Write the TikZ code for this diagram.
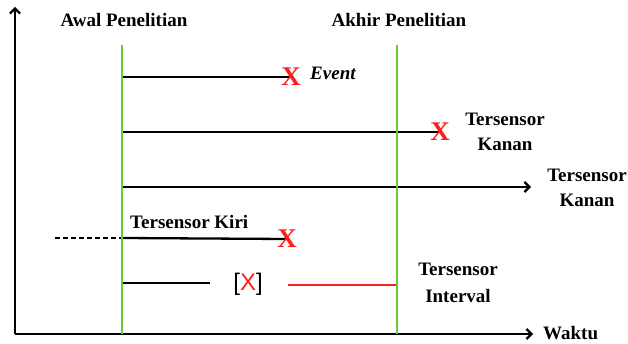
\documentclass[tikz,border=0pt]{standalone}
\usepackage{fontspec}
\setmainfont{Liberation Serif}
\newfontfamily\sansf{Liberation Sans}
\usetikzlibrary{arrows.meta,backgrounds}
\definecolor{lgreen}{RGB}{102,204,51}
\definecolor{xred}{RGB}{255,30,30}
\begin{document}
\begin{tikzpicture}[x=1pt,y=-1pt,
  lbl/.style={font=\fontsize{19}{25}\selectfont\bfseries, align=center, inner sep=0pt},
  cross/.style={text=xred, font=\fontsize{27}{27}\selectfont\bfseries, inner sep=0pt},
  ln/.style={line width=2.3pt, black},
  grn/.style={line width=2.3pt, lgreen},
  tip/.style={-{Straight Barb[length=5pt,width=10pt]}}]
\useasboundingbox (0,0) rectangle (628,344);
% axes
\coordinate (o) at (15,334);
\coordinate (ytop) at (15,7);
\coordinate (xend) at (533,334);
% green period lines
\coordinate (g1t) at (122,45);
\coordinate (g1b) at (122,334);
\coordinate (g2t) at (397,45);
\coordinate (g2b) at (397,334);
% header labels
\node[lbl] (awal) at (124,20) {Awal Penelitian};
\node[lbl] (akhir) at (399,20) {Akhir Penelitian};
% row 1
\coordinate (r1s) at (122,77);
\node[cross] (x1) at (291,77) {X};
\node[lbl, font=\fontsize{19}{20}\selectfont\bfseries\itshape, anchor=west] (ev) at (310,73) {Event};
% row 2
\coordinate (r2s) at (122,132);
\node[cross] (x2) at (440,132) {X};
\node[lbl] (kanan1) at (505,132) {Tersensor\\Kanan};
% row 3
\coordinate (r3s) at (122,187);
\coordinate (r3e) at (531,187);
\node[lbl] (kanan2) at (587,188) {Tersensor\\Kanan};
% row 4
\node[lbl, anchor=west] (kiri) at (130,222) {Tersensor Kiri};
\coordinate (r4d) at (55,238);
\coordinate (r4s) at (122,238);
\node[cross] (x4) at (287,239) {X};
% row 5
\coordinate (r5s) at (122,283);
\coordinate (r5e) at (210,283);
\node[inner sep=0pt, font=\sansf\fontsize{24}{24}\selectfont] (ix) at (248,284) {[\textcolor{xred}{X}]};
\coordinate (r5r) at (288,285);
\coordinate (r5g) at (397,285);
\node[lbl, font=\fontsize{19}{27}\selectfont\bfseries] (interval) at (458,283) {Tersensor\\Interval};
\node[lbl, anchor=west] (waktu) at (543,333) {Waktu};
\begin{scope}[on background layer]
  \draw[ln, tip] (o) -- (ytop);
  \draw[ln, tip] (o) -- (xend);
  \draw[ln] (r1s) -- (x1.center);
  \draw[ln] (r2s) -- (x2.center);
  \draw[ln, tip] (r3s) -- (r3e);
  \draw[ln, dash pattern=on 5pt off 3pt] (r4d) -- (r4s);
  \draw[ln] (r4s) -- (x4.center);
  \draw[ln] (r5s) -- (r5e);
  \draw[line width=2.3pt, xred] (r5r) -- (r5g);
  \draw[grn] (g1t) -- (g1b);
  \draw[grn] (g2t) -- (g2b);
\end{scope}
\end{tikzpicture}
\end{document}
